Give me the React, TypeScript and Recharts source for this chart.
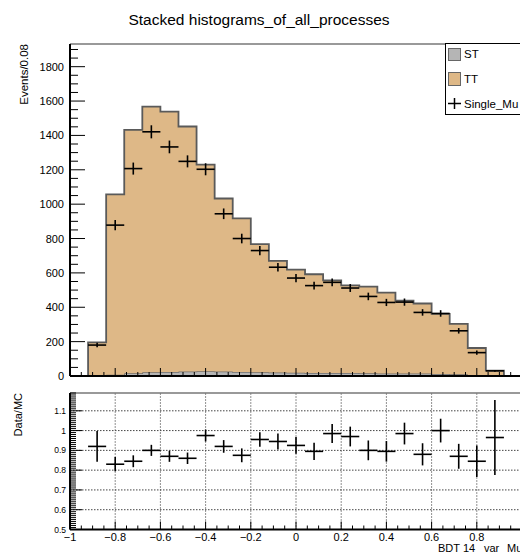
import React from 'react';
import { ComposedChart, Area, Scatter, ErrorBar, XAxis, YAxis, ReferenceLine } from 'recharts';

// bin edges of the BDT histogram (width 0.08)
const binEdges = [-0.92, -0.84, -0.76, -0.68, -0.6, -0.52, -0.44, -0.36, -0.28, -0.2, -0.12, -0.04,
  0.04, 0.12, 0.2, 0.28, 0.36, 0.44, 0.52, 0.6, 0.68, 0.76, 0.84, 0.92];
const binCenters = [-0.88, -0.8, -0.72, -0.64, -0.56, -0.48, -0.4, -0.32, -0.24, -0.16, -0.08, 0,
  0.08, 0.16, 0.24, 0.32, 0.4, 0.48, 0.56, 0.64, 0.72, 0.8, 0.88];
const binHalfWidth = 0.04;

const stCounts = [2, 8, 16, 22, 23, 26, 27, 26, 24, 22, 20, 19, 18, 18, 17, 16, 15, 15, 14, 12, 10, 6, 1];
const ttCounts = [194, 1049, 1416, 1545, 1516, 1426, 1203, 1007, 893, 745, 650, 600, 574, 539, 510, 504, 470, 423, 408, 350, 293, 157, 30];
const dataCounts = [180, 878, 1207, 1421, 1333, 1249, 1203, 944, 800, 730, 633, 570, 526, 545, 512, 463, 428, 430, 370, 364, 263, 136, 30];
const dataErrors = [13, 30, 35, 38, 37, 35, 35, 31, 28, 27, 25, 24, 23, 23, 23, 22, 21, 21, 19, 19, 16, 12, 5];

const ratioValues = [0.92, 0.83, 0.845, 0.9, 0.87, 0.86, 0.975, 0.92, 0.875, 0.955, 0.945, 0.925,
  0.895, 0.985, 0.97, 0.9, 0.895, 0.985, 0.88, 1.0, 0.87, 0.845, 0.965];
const ratioErrors = [0.078, 0.036, 0.03, 0.028, 0.028, 0.029, 0.03, 0.032, 0.035, 0.037, 0.04, 0.042,
  0.044, 0.048, 0.05, 0.05, 0.052, 0.055, 0.056, 0.06, 0.063, 0.08, 0.19];

const xTicks = Array.from({ length: 41 }, (_, i) => Math.round((-1 + i * 0.05) * 100) / 100);
const topYTicks = Array.from({ length: 39 }, (_, i) => i * 50);
const ratioYTicks = Array.from({ length: 70 }, (_, i) => Math.round((0.5 + i * 0.01) * 100) / 100);
const xGrid = [-0.8, -0.6, -0.4, -0.2, 0, 0.2, 0.4, 0.6, 0.8];
const yGrid = [0.6, 0.7, 0.8, 0.9, 1, 1.1];

const TOP_MAX = 1932;
const RATIO_MIN = 0.5;
const RATIO_MAX = 1.19;

const last = binEdges.length - 1;
const histRows = [
  { x: binEdges[0], st: 0, tt: 0 },
  ...binCenters.map((_, i) => ({ x: binEdges[i], st: stCounts[i], tt: ttCounts[i] })),
  { x: binEdges[last], st: stCounts[last - 1], tt: ttCounts[last - 1] },
  { x: binEdges[last], st: 0, tt: 0 },
];
const dataRows = binCenters.map((c, i) => ({ x: c, y: dataCounts[i], xe: binHalfWidth, ye: dataErrors[i] }));
const ratioRows = binCenters.map((c, i) => ({ x: c, r: ratioValues[i], xe: binHalfWidth, ye: ratioErrors[i] }));

const LEFT = 70;
const TOP_AXIS_Y = 376;
const RATIO_AXIS_Y = 149.5;
const font = '"Liberation Sans", Arial, Helvetica, sans-serif';

const isMajor = (v: number, step: number) => Math.abs(v / step - Math.round(v / step)) < 1e-6;
const fmtX = (v: number) => (v < 0 ? '\u2212' + String(-v) : String(v));

const topXTick = (p: any) => {
  const major = isMajor(p.payload.value, 0.2);
  return <line x1={p.x} x2={p.x} y1={TOP_AXIS_Y} y2={TOP_AXIS_Y - (major ? 8 : 4)} stroke="#000" strokeWidth={1} />;
};

const topYTick = (p: any) => {
  const v = p.payload.value;
  const major = v % 200 === 0;
  return (
    <g>
      <line x1={LEFT} x2={LEFT + (major ? 15 : 8)} y1={p.y} y2={p.y} stroke="#000" strokeWidth={1} />
      {major && (
        <text x={LEFT - 6} y={p.y + 4} textAnchor="end" fontSize={11} fill="#000" fontFamily={font}>
          {v}
        </text>
      )}
    </g>
  );
};

const ratioXTick = (p: any) => {
  const v = p.payload.value;
  const major = isMajor(v, 0.2);
  return (
    <g>
      <line x1={p.x} x2={p.x} y1={RATIO_AXIS_Y} y2={RATIO_AXIS_Y - (major ? 8 : 4)} stroke="#000" strokeWidth={1} />
      {major && v < 0.99 && (
        <text x={p.x} y={RATIO_AXIS_Y + 11.5} textAnchor="middle" fontSize={11} fill="#000" fontFamily={font}>
          {fmtX(v)}
        </text>
      )}
    </g>
  );
};

const ratioYTick = (p: any) => {
  const v = p.payload.value;
  const major = isMajor(v, 0.1);
  return (
    <g>
      <line x1={LEFT} x2={LEFT + (major ? 12 : 6)} y1={p.y} y2={p.y} stroke="#000" strokeWidth={1} />
      {major && (
        <text x={LEFT - 4} y={p.y + 3} textAnchor="end" fontSize={8.5} fill="#000" fontFamily={font}>
          {String(v)}
        </text>
      )}
    </g>
  );
};

const noDot = () => <g />;

export default function App() {
  return (
    <div style={{ position: 'fixed', left: 0, top: 0, width: 520, height: 553, overflow: 'hidden', background: '#fff', fontFamily: font }}>
      <div style={{ position: 'absolute', left: 0, top: 0 }}>
        <ComposedChart width={530} height={400} data={histRows} margin={{ top: 44, right: 8, bottom: 0, left: 0 }}>
          <XAxis dataKey="x" type="number" domain={[-1, 1]} allowDataOverflow ticks={xTicks} interval={0}
            tick={false} tickLine={false} axisLine={false} height={24} />
          <YAxis type="number" domain={[0, TOP_MAX]} allowDataOverflow ticks={topYTicks} interval={0}
            tick={topYTick} tickLine={false} axisLine={{ stroke: '#000', strokeWidth: 2 }} width={70} />
          <ReferenceLine y={TOP_MAX} stroke="#777" strokeWidth={1.5} />
          <Area type="stepAfter" dataKey="st" stackId="h" fill="#b5b5b5" fillOpacity={1} stroke="#6e6e6e"
            strokeWidth={1.5} dot={false} activeDot={false} isAnimationActive={false} />
          <Area type="stepAfter" dataKey="tt" stackId="h" fill="#deb887" fillOpacity={1} stroke="#5a5a5a"
            strokeWidth={1.8} dot={false} activeDot={false} isAnimationActive={false} />
          <Scatter data={dataRows} dataKey="y" shape={noDot} isAnimationActive={false}>
            <ErrorBar dataKey="xe" direction="x" width={0} stroke="#000" strokeWidth={1.6} />
            <ErrorBar dataKey="ye" direction="y" width={0} stroke="#000" strokeWidth={1.6} />
          </Scatter>
        </ComposedChart>
      </div>
      {/* x axis of the upper pad drawn on top of the histograms, as ROOT does */}
      <div style={{ position: 'absolute', left: 0, top: 0 }}>
        <ComposedChart width={530} height={400} data={histRows} margin={{ top: 44, right: 8, bottom: 0, left: 70 }}>
          <XAxis dataKey="x" type="number" domain={[-1, 1]} allowDataOverflow ticks={xTicks} interval={0}
            tick={topXTick} tickLine={false} axisLine={{ stroke: '#000', strokeWidth: 2 }} height={24} />
          <YAxis hide type="number" domain={[0, TOP_MAX]} />
        </ComposedChart>
      </div>
      <div style={{ position: 'absolute', left: 0, top: 380, width: 530, height: 173, background: '#fff' }}>
        <ComposedChart width={530} height={173} margin={{ top: 13, right: 8, bottom: 0, left: 0 }}>
          <XAxis dataKey="x" type="number" domain={[-1, 1]} allowDataOverflow ticks={xTicks} interval={0}
            tick={ratioXTick} tickLine={false} axisLine={{ stroke: '#000', strokeWidth: 2 }} height={23.5} />
          <YAxis type="number" domain={[RATIO_MIN, RATIO_MAX]} allowDataOverflow ticks={ratioYTicks} interval={0}
            tick={ratioYTick} tickLine={false} axisLine={{ stroke: '#000', strokeWidth: 2 }} width={70} />
          {xGrid.map((v) => (
            <ReferenceLine key={'gx' + v} x={v} stroke="#222" strokeWidth={1} strokeDasharray="1 2" />
          ))}
          {yGrid.map((v) => (
            <ReferenceLine key={'gy' + v} y={v} stroke="#444" strokeWidth={1} strokeDasharray="1.5 1.5" />
          ))}
          <ReferenceLine y={RATIO_MAX} stroke="#777" strokeWidth={1.5} />
          <Scatter data={ratioRows} dataKey="r" shape={noDot} isAnimationActive={false}>
            <ErrorBar dataKey="xe" direction="x" width={0} stroke="#000" strokeWidth={1.6} />
            <ErrorBar dataKey="ye" direction="y" width={0} stroke="#000" strokeWidth={1.6} />
          </Scatter>
        </ComposedChart>
      </div>
      <svg width={520} height={553} style={{ position: 'absolute', left: 0, top: 0, pointerEvents: 'none' }}>
        <text x={259} y={25} textAnchor="middle" fontSize={15.5} fill="#000" fontFamily={font}>
          Stacked histograms_of_all_processes
        </text>
        <text x={28} y={44} textAnchor="end" fontSize={11.5} fill="#000" fontFamily={font} transform="rotate(-90 28 44)">
          Events/0.08
        </text>
        <text x={22} y={393} textAnchor="end" fontSize={11} fill="#000" fontFamily={font} transform="rotate(-90 22 393)">
          Data/MC
        </text>
        <text y={552} fontSize={11} fill="#000" fontFamily={font}>
          <tspan x={438}>BDT</tspan>
          <tspan x={463}>14</tspan>
          <tspan x={484}>var</tspan>
          <tspan x={507}>Mu</tspan>
        </text>
        <rect x={445.5} y={43.5} width={80} height={71} fill="#fff" stroke="#000" strokeWidth={1} />
        <rect x={448.5} y={48.5} width={12} height={12} fill="#b5b5b5" stroke="#666" strokeWidth={1} />
        <text x={464} y={58} fontSize={11.5} fill="#000" fontFamily={font}>ST</text>
        <rect x={448.5} y={72.5} width={12} height={13} fill="#deb887" stroke="#666" strokeWidth={1} />
        <text x={464} y={83} fontSize={11.5} fill="#000" fontFamily={font}>TT</text>
        <line x1={448} x2={461} y1={103.5} y2={103.5} stroke="#000" strokeWidth={1.5} />
        <line x1={454.5} x2={454.5} y1={98} y2={109} stroke="#000" strokeWidth={1.5} />
        <text x={464} y={107.5} fontSize={11.5} fill="#000" fontFamily={font}>Single_Mu</text>
      </svg>
    </div>
  );
}
